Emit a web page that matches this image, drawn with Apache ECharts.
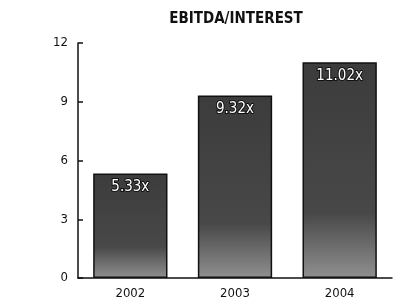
<!DOCTYPE html>
<html>
<head>
<meta charset="utf-8">
<script src="https://cdn.jsdelivr.net/npm/echarts@6/dist/echarts.min.js"></script>
<style>
  html, body { margin: 0; padding: 0; background: #fff; }
  #chart { width: 394px; height: 307px; }
</style>
</head>
<body>
<div id="chart"></div>
<script>
var years = ["2002", "2003", "2004"];
var ratios = [5.33, 9.32, 11.02];
var ratioLabels = ["5.33x", "9.32x", "11.02x"];
var yTicks = [0, 3, 6, 9, 12];

var chart = echarts.init(document.getElementById("chart"));
var font = "'DejaVu Sans Condensed', 'Liberation Sans Narrow', sans-serif";

chart.setOption({
  animation: false,
  title: {
    text: "EBITDA/INTEREST",
    left: 231,
    top: 7,
    textAlign: "center",
    textStyle: { fontFamily: font, fontSize: 15, fontWeight: "bold", color: "#111" }
  },
  grid: { left: 78, right: 2, top: 43, bottom: 29 },
  xAxis: {
    type: "category",
    data: years,
    axisLine: { lineStyle: { color: "#111", width: 1.5 } },
    axisTick: { show: false },
    axisLabel: { color: "#111", fontFamily: font, fontSize: 13, margin: 9 }
  },
  yAxis: {
    type: "value",
    min: yTicks[0],
    max: yTicks[yTicks.length - 1],
    interval: 3,
    splitLine: { show: false },
    axisLine: { show: true, lineStyle: { color: "#111", width: 1.5 } },
    axisTick: { show: true, inside: true, length: 5, lineStyle: { color: "#111", width: 1.5 } },
    axisLabel: { color: "#111", fontFamily: font, fontSize: 13, margin: 10 }
  },
  series: [{
    type: "bar",
    data: ratios,
    barWidth: "71%",
    itemStyle: {
      color: new echarts.graphic.LinearGradient(0, 0, 0, 1, [
        { offset: 0, color: "#3c3c3c" },
        { offset: 0.7, color: "#484848" },
        { offset: 1, color: "#909090" }
      ]),
      borderColor: "#111",
      borderWidth: 1.5
    },
    label: {
      show: true,
      position: "insideTop",
      distance: 6,
      formatter: function (p) { return ratioLabels[p.dataIndex]; },
      color: "#fff",
      fontFamily: font,
      fontSize: 15,
      textBorderColor: "#111",
      textBorderWidth: 2
    }
  }]
});
</script>
</body>
</html>
